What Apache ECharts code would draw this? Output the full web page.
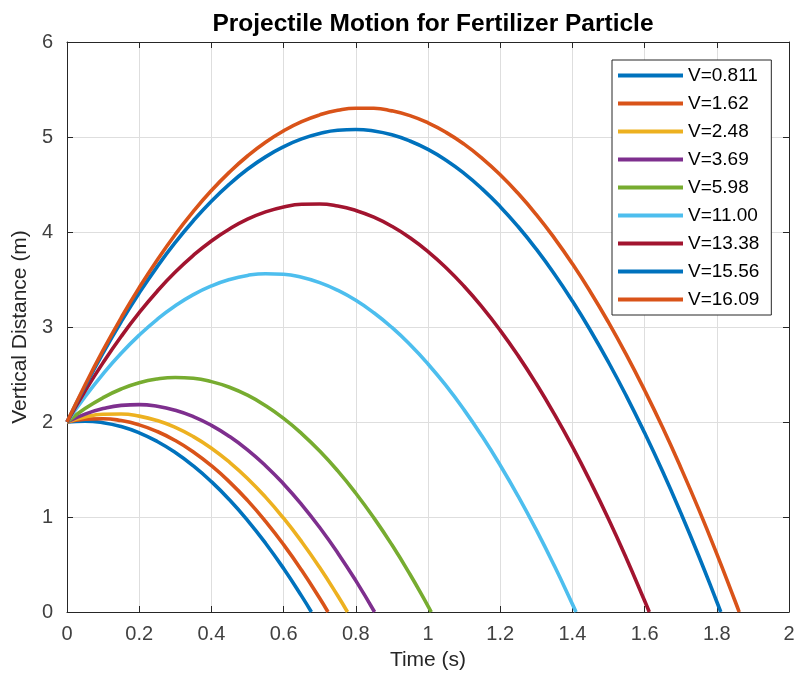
<!DOCTYPE html>
<html>
<head>
<meta charset="utf-8">
<script src="https://cdn.jsdelivr.net/npm/echarts@6/dist/echarts.min.js"></script>
<style>
  html, body { margin: 0; padding: 0; background: #fff; }
  #main { width: 798px; height: 688px; }
</style>
</head>
<body>
<div id="main"></div>
<script>
// speed labels for legend
var legendNames = ['V=0.811', 'V=1.62', 'V=2.48', 'V=3.69', 'V=5.98', 'V=11.00', 'V=13.38', 'V=15.56', 'V=16.09'];
var lineColors = ['#0072BD', '#D95319', '#EDB120', '#7E2F8E', '#77AC30', '#4DBEEE', '#A2142F', '#0072BD', '#D95319'];

// [time, height]
var v0811 = [[0, 2], [0.05, 2.009], [0.1, 1.993], [0.15, 1.952], [0.2, 1.886], [0.25, 1.795], [0.3, 1.679], [0.35, 1.538], [0.4, 1.372],
    [0.45, 1.181], [0.5, 0.965], [0.55, 0.724], [0.6, 0.458], [0.65, 0.167], [0.677, 0]];
var v162 = [[0, 2], [0.05, 2.03], [0.1, 2.035], [0.15, 2.015], [0.2, 1.97], [0.25, 1.9], [0.3, 1.805], [0.35, 1.685], [0.4, 1.54],
    [0.45, 1.37], [0.5, 1.175], [0.55, 0.954], [0.6, 0.709], [0.65, 0.439], [0.7, 0.144], [0.723, 0]];
var v248 = [[0, 2], [0.05, 2.053], [0.1, 2.081], [0.15, 2.084], [0.2, 2.062], [0.25, 2.015], [0.3, 1.943], [0.35, 1.846], [0.4, 1.724],
    [0.45, 1.577], [0.5, 1.406], [0.55, 1.209], [0.6, 0.987], [0.65, 0.74], [0.7, 0.468], [0.75, 0.171], [0.777, 0]];
var v369 = [[0, 2], [0.05, 2.083], [0.1, 2.141], [0.15, 2.175], [0.2, 2.183], [0.25, 2.166], [0.3, 2.124], [0.35, 2.057], [0.4, 1.965],
    [0.45, 1.848], [0.5, 1.707], [0.55, 1.54], [0.6, 1.348], [0.65, 1.131], [0.7, 0.889], [0.75, 0.622], [0.8, 0.33], [0.852, 0]];
var v598 = [[0, 2], [0.05, 2.141], [0.1, 2.256], [0.15, 2.347], [0.2, 2.413], [0.25, 2.453], [0.3, 2.469], [0.35, 2.46], [0.4, 2.425],
    [0.45, 2.366], [0.5, 2.282], [0.55, 2.172], [0.6, 2.038], [0.65, 1.878], [0.7, 1.694], [0.75, 1.485], [0.8, 1.25], [0.85, 0.991],
    [0.9, 0.707], [0.95, 0.397], [1.0, 0.063], [1.009, 0]];
var v1100 = [[0, 2], [0.05, 2.266], [0.1, 2.507], [0.15, 2.723], [0.2, 2.914], [0.25, 3.081], [0.3, 3.223], [0.35, 3.34], [0.4, 3.432],
    [0.45, 3.5], [0.5, 3.543], [0.55, 3.561], [0.6, 3.555], [0.65, 3.523], [0.7, 3.467], [0.75, 3.386], [0.8, 3.281], [0.85, 3.15],
    [0.9, 2.995], [0.95, 2.815], [1.0, 2.611], [1.05, 2.382], [1.1, 2.128], [1.15, 1.849], [1.2, 1.545], [1.25, 1.217], [1.3, 0.864],
    [1.35, 0.486], [1.4, 0.083], [1.41, 0]];
var v1338 = [[0, 2], [0.05, 2.325], [0.1, 2.625], [0.15, 2.9], [0.2, 3.151], [0.25, 3.377], [0.3, 3.578], [0.35, 3.754], [0.4, 3.906],
    [0.45, 4.032], [0.5, 4.135], [0.55, 4.212], [0.6, 4.264], [0.65, 4.292], [0.7, 4.295], [0.75, 4.274], [0.8, 4.227], [0.85, 4.156],
    [0.9, 4.06], [0.95, 3.939], [1.0, 3.794], [1.05, 3.624], [1.1, 3.429], [1.15, 3.209], [1.2, 2.965], [1.25, 2.696], [1.3, 2.402],
    [1.35, 2.083], [1.4, 1.74], [1.45, 1.371], [1.5, 0.979], [1.55, 0.561], [1.6, 0.118], [1.613, 0]];
var v1556 = [[0, 2], [0.05, 2.376], [0.1, 2.728], [0.15, 3.055], [0.2, 3.358], [0.25, 3.636], [0.3, 3.89], [0.35, 4.119], [0.4, 4.324],
    [0.45, 4.504], [0.5, 4.66], [0.55, 4.791], [0.6, 4.897], [0.65, 4.98], [0.7, 5.037], [0.75, 5.071], [0.8, 5.079], [0.85, 5.063],
    [0.9, 5.023], [0.95, 4.958], [1.0, 4.869], [1.05, 4.755], [1.1, 4.617], [1.15, 4.454], [1.2, 4.267], [1.25, 4.055], [1.3, 3.819],
    [1.35, 3.558], [1.4, 3.273], [1.45, 2.963], [1.5, 2.629], [1.55, 2.27], [1.6, 1.886], [1.65, 1.479], [1.7, 1.046], [1.75, 0.59],
    [1.8, 0.108], [1.811, 0]];
var v1609 = [[0, 2], [0.05, 2.39], [0.1, 2.756], [0.15, 3.097], [0.2, 3.414], [0.25, 3.706], [0.3, 3.974], [0.35, 4.217], [0.4, 4.436],
    [0.45, 4.63], [0.5, 4.8], [0.55, 4.945], [0.6, 5.065], [0.65, 5.162], [0.7, 5.233], [0.75, 5.281], [0.8, 5.303], [0.85, 5.302],
    [0.9, 5.275], [0.95, 5.225], [1.0, 5.149], [1.05, 5.049], [1.1, 4.925], [1.15, 4.776], [1.2, 4.603], [1.25, 4.405], [1.3, 4.183],
    [1.35, 3.936], [1.4, 3.665], [1.45, 3.369], [1.5, 3.049], [1.55, 2.704], [1.6, 2.334], [1.65, 1.941], [1.7, 1.522], [1.75, 1.08],
    [1.8, 0.612], [1.85, 0.121], [1.862, 0]];

var allData = [v0811, v162, v248, v369, v598, v1100, v1338, v1556, v1609];

var myChart = echarts.init(document.getElementById('main'));

var fontFam = '"Liberation Sans", Arial, sans-serif';
var tickColor = '#404040';

var seriesList = [];
for (var i = 0; i < allData.length; i++) {
    seriesList.push({
        name: legendNames[i],
        type: 'line',
        data: allData[i],
        smooth: true,
        showSymbol: false,
        symbol: 'none',
        lineStyle: { width: 3.6, color: lineColors[i] },
        itemStyle: { color: lineColors[i] },
        z: 2 + i
    });
}

var option = {
    animation: false,
    title: {
        text: 'Projectile Motion for Fertilizer Particle',
        left: 428,
        top: 7,
        textAlign: 'center',
        textStyle: {
            fontFamily: fontFam,
            fontSize: 24.5,
            fontWeight: 'bold',
            color: '#000'
        }
    },
    legend: {
        orient: 'vertical',
        left: 612,
        top: 60,
        width: 160,
        padding: [6, 12, 6, 6],
        itemGap: 9,
        itemWidth: 65,
        itemHeight: 4,
        icon: 'rect',
        backgroundColor: '#fff',
        borderColor: '#262626',
        borderWidth: 1,
        borderRadius: 0,
        data: legendNames,
        textStyle: {
            fontFamily: fontFam,
            fontSize: 19,
            color: '#000',
            padding: [0, 0, 0, 0]
        }
    },
    grid: {
        left: 67,
        right: 9,
        top: 42,
        bottom: 76
    },
    xAxis: [
        {
            type: 'value',
            min: 0,
            max: 2,
            interval: 0.2,
            name: 'Time (s)',
            nameLocation: 'middle',
            nameGap: 38,
            nameTextStyle: { fontFamily: fontFam, fontSize: 21, color: '#262626' },
            axisLine: { show: true, onZero: false, lineStyle: { color: '#262626', width: 1 } },
            axisTick: { show: true, inside: true, length: 6, lineStyle: { color: '#262626' } },
            axisLabel: {
                fontFamily: fontFam,
                fontSize: 20,
                color: tickColor,
                margin: 12,
                formatter: function (v) { return String(+v.toFixed(1)); }
            },
            splitLine: { show: true, lineStyle: { color: '#dedede', width: 1 } }
        },
        {
            type: 'value',
            position: 'top',
            min: 0,
            max: 2,
            interval: 0.2,
            axisLine: { show: true, onZero: false, lineStyle: { color: '#262626', width: 1 } },
            axisTick: { show: true, inside: true, length: 6, lineStyle: { color: '#262626' } },
            axisLabel: { show: false },
            splitLine: { show: false }
        }
    ],
    yAxis: [
        {
            type: 'value',
            min: 0,
            max: 6,
            interval: 1,
            name: 'Vertical Distance (m)',
            nameLocation: 'middle',
            nameGap: 36,
            nameTextStyle: { fontFamily: fontFam, fontSize: 21, color: '#262626' },
            axisLine: { show: true, onZero: false, lineStyle: { color: '#262626', width: 1 } },
            axisTick: { show: true, inside: true, length: 6, lineStyle: { color: '#262626' } },
            axisLabel: { fontFamily: fontFam, fontSize: 20, color: tickColor, margin: 14 },
            splitLine: { show: true, lineStyle: { color: '#dedede', width: 1 } }
        },
        {
            type: 'value',
            position: 'right',
            min: 0,
            max: 6,
            interval: 1,
            axisLine: { show: true, onZero: false, lineStyle: { color: '#262626', width: 1 } },
            axisTick: { show: true, inside: true, length: 6, lineStyle: { color: '#262626' } },
            axisLabel: { show: false },
            splitLine: { show: false }
        }
    ],
    series: seriesList
};

myChart.setOption(option);
</script>
</body>
</html>
